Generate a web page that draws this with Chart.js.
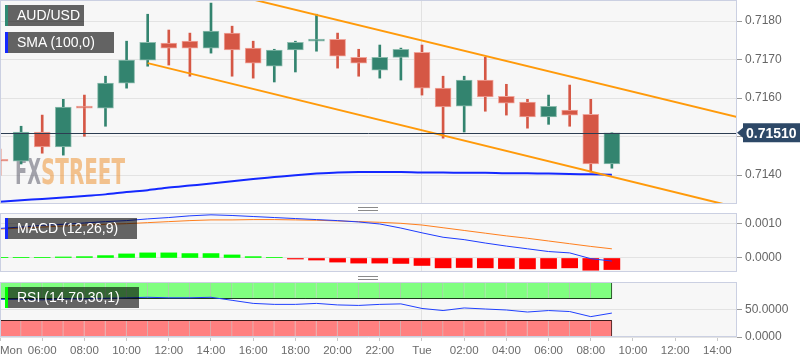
<!DOCTYPE html>
<html>
<head>
<meta charset="utf-8">
<script src="https://cdn.jsdelivr.net/npm/chart.js@4.4.0/dist/chart.umd.min.js"></script>
<style>
html, body { margin: 0; padding: 0; background: #fff; }
#wrap { position: relative; width: 808px; height: 363px; overflow: hidden; font-family: "Liberation Sans", Arial, sans-serif; }
canvas { position: absolute; left: 0; }
.tag { position: absolute; left: 5px; height: 21px; line-height: 21px; background: rgba(0,0,0,0.6); color: #fff; font-size: 14px; padding-left: 9px; box-sizing: border-box; border-left: 3px solid; white-space: nowrap; }
.grip { position: absolute; left: 358px; width: 20px; height: 2px; border-top: 1px solid #8a8a8a; border-bottom: 1px solid #8a8a8a; }
</style>
</head>
<body>
<div id="wrap">
	<canvas id="price-chart" width="808" height="204" style="top:0"></canvas>
	<canvas id="macd-chart" width="808" height="59" style="top:213px"></canvas>
	<canvas id="rsi-chart" width="808" height="81" style="top:282px"></canvas>
	<div class="tag" style="top:5px;width:79px;border-color:#2f8a73">AUD/USD</div>
	<div class="tag" style="top:32px;width:109px;border-color:#1428ff">SMA (100,0)</div>
	<div class="tag" style="top:218px;width:132px;border-color:#1428ff">MACD (12,26,9)</div>
	<div class="tag" style="top:287px;width:134px;border-color:#00ff00">RSI (14,70,30,1)</div>
	<div class="grip" style="top:207px"></div>
	<div class="grip" style="top:276px"></div>
</div>
<script>
// AUD/USD hourly, Mon 04:00 -> Tue 09:00 (hour index 0 = Mon 04:00)
var candleHours = [0, 1, 2, 3, 4, 5, 6, 7, 8, 9, 10, 11, 12, 13, 14, 15, 16, 17, 18, 19, 20, 21, 22, 23, 24, 25, 26, 27, 28, 29];
var opens  = [0.71439, 0.71436, 0.71512, 0.71473, 0.71579, 0.71574, 0.71639, 0.71699, 0.71743, 0.71748,
			  0.71730, 0.71769, 0.71730, 0.71683, 0.71725, 0.71748, 0.71753, 0.71706, 0.71673, 0.71706,
			  0.71719, 0.71626, 0.71579, 0.71647, 0.71605, 0.71590, 0.71551, 0.71569, 0.71558, 0.71429];
var highs  = [0.71468, 0.71527, 0.71556, 0.71597, 0.71608, 0.71657, 0.71748, 0.71818, 0.71777, 0.71769,
			  0.71847, 0.71787, 0.71748, 0.71727, 0.71748, 0.71818, 0.71769, 0.71727, 0.71738, 0.71730,
			  0.71738, 0.71657, 0.71657, 0.71706, 0.71636, 0.71597, 0.71608, 0.71634, 0.71597, 0.71510];
var lows   = [0.71400, 0.71429, 0.71457, 0.71452, 0.71501, 0.71527, 0.71626, 0.71683, 0.71686, 0.71657,
			  0.71717, 0.71657, 0.71652, 0.71642, 0.71668, 0.71722, 0.71678, 0.71657, 0.71652, 0.71647,
			  0.71608, 0.71496, 0.71512, 0.71566, 0.71556, 0.71522, 0.71532, 0.71527, 0.71408, 0.71418];
var closes = [0.71436, 0.71512, 0.71473, 0.71577, 0.71574, 0.71639, 0.71699, 0.71745, 0.71730, 0.71730,
			  0.71774, 0.71725, 0.71691, 0.71725, 0.71745, 0.71753, 0.71709, 0.71691, 0.71706, 0.71727,
			  0.71626, 0.71577, 0.71647, 0.71603, 0.71587, 0.71551, 0.71579, 0.71556, 0.71429, 0.71510];
var sma100 = [0.71331, 0.71335, 0.71338, 0.71342, 0.71346, 0.71350, 0.71356, 0.71361, 0.71368, 0.71373,
			  0.71378, 0.71384, 0.71390, 0.71395, 0.71400, 0.71404, 0.71407, 0.71408, 0.71408, 0.71408,
			  0.71407, 0.71407, 0.71406, 0.71406, 0.71405, 0.71405, 0.71404, 0.71403, 0.71402, 0.71401];
var lastPrice = 0.71510;

// descending channel, [hour index] -> price
var channelTopX = [12, 35];
var channelTopY = [0.71856, 0.71550];
var channelBottomX = [7, 34.5];
var channelBottomY = [0.71691, 0.71322];

var macdLine   = [0.00087, 0.00091, 0.00096, 0.00099, 0.00103, 0.00107, 0.00110, 0.00115, 0.00119, 0.00124,
				  0.00127, 0.00125, 0.00122, 0.00119, 0.00116, 0.00113, 0.00110, 0.00106, 0.00100, 0.00088,
				  0.00074, 0.00061, 0.00054, 0.00044, 0.00035, 0.00027, 0.00019, 0.00015, -0.00002, -0.00009];
var macdSignal = [0.00085, 0.00088, 0.00091, 0.00094, 0.00097, 0.00099, 0.00101, 0.00104, 0.00107, 0.00110,
				  0.00112, 0.00112, 0.00113, 0.00113, 0.00112, 0.00111, 0.00109, 0.00107, 0.00105, 0.00102,
				  0.00097, 0.00089, 0.00081, 0.00073, 0.00065, 0.00058, 0.00050, 0.00042, 0.00034, 0.00027];
var macdHist   = [0.00002, 0.00002, 0.00001, 0.00003, 0.00004, 0.00007, 0.00012, 0.00015, 0.00015, 0.00013,
				  0.00013, 0.00009, 0.00004, 0.00001, -0.00003, -0.00006, -0.00012, -0.00015, -0.00015, -0.00016,
				  -0.00022, -0.00029, -0.00028, -0.00029, -0.00031, -0.00032, -0.00031, -0.00029, -0.00036, -0.00034];

var rsi14 = [68.5, 68.5, 67.6, 69.4, 69.4, 70.4, 71.3, 72.2, 71.3, 71.3,
			 72.2, 66.7, 61.1, 59.3, 59.3, 61.1, 58.3, 57.4, 59.3, 60.2,
			 51.9, 48.1, 52.8, 50.9, 49.1, 45.4, 48.1, 46.3, 37.0, 43.5];
var rsiOverbought = [70, 100];
var rsiOversold = [0, 30];

var timeTicks = [0, 2, 4, 6, 8, 10, 12, 14, 16, 18, 20, 22, 24, 26, 28, 30, 32, 34];
var timeLabels = ['       Mon', '06:00', '08:00', '10:00', '12:00', '14:00', '16:00', '18:00', '20:00',
				  '22:00', 'Tue', '02:00', '04:00', '06:00', '08:00', '10:00', '12:00', '14:00'];
var dayBreak = 20;
var priceTicks = [0.7140, 0.7150, 0.7160, 0.7170, 0.7180];
var macdTicks = [0, 0.0010];
var rsiTicks = [0, 50];

var xMin = 0, xMax = 34.93;
var upColor = '#33846f', downColor = '#d55745';
var upEdge = '#8dbcae', downEdge = '#f0a59b';

function pts(xs, ys) {
	return ys.map(function (v, i) { return { x: xs[i], y: v }; });
}
function isUp(i) { return closes[i] >= opens[i]; }

var panelPlugin = {
	id: 'panel',
	beforeDraw: function (chart) {
		var a = chart.chartArea, ctx = chart.ctx;
		ctx.save();
		ctx.fillStyle = '#f7f7f7';
		ctx.fillRect(a.left, a.top, a.right - a.left, a.bottom - a.top);
		ctx.restore();
	},
	afterDraw: function (chart) {
		var a = chart.chartArea, ctx = chart.ctx;
		ctx.save();
		ctx.strokeStyle = '#cbd0e2';
		ctx.lineWidth = 1;
		ctx.strokeRect(a.left + 0.5, a.top + 0.5, a.right - a.left - 1, a.bottom - a.top - 1);
		ctx.restore();
	}
};

function xAxis(showLabels) {
	return {
		type: 'linear',
		min: xMin,
		max: xMax,
		offset: false,
		display: true,
		border: { display: false },
		grid: {
			offset: false,
			drawTicks: showLabels,
			tickLength: 4,
			tickColor: '#c8c8c8',
			color: function (c) { return c.tick && c.tick.value === dayBreak ? '#e2e2e2' : 'rgba(0,0,0,0)'; }
		},
		ticks: {
			display: showLabels,
			autoSkip: false,
			maxRotation: 0,
			padding: 3,
			color: '#6b6b6b',
			font: { family: '"Liberation Sans", Arial', size: 11.5 },
			callback: function (v, i) { return timeLabels[i]; }
		},
		afterBuildTicks: function (s) { s.ticks = timeTicks.map(function (v) { return { value: v }; }); },
		afterFit: function (s) { s.paddingLeft = 0; s.paddingRight = 0; s.height = showLabels ? 26 : 0; }
	};
}

function yAxis(min, max, ticksList, fmt) {
	return {
		type: 'linear',
		position: 'right',
		min: min,
		max: max,
		beginAtZero: false,
		border: { display: false },
		grid: { color: '#e3e3e3', tickLength: 5, tickColor: '#9a9a9a' },
		ticks: {
			padding: 3,
			color: '#666',
			font: { family: '"Liberation Sans", Arial', size: 12 },
			callback: fmt
		},
		afterBuildTicks: function (s) { s.ticks = ticksList.map(function (v) { return { value: v }; }); },
		afterFit: function (s) { s.width = 71; s.paddingTop = 0; s.paddingBottom = 0; }
	};
}

var fourDp = function (v) { return v.toFixed(4); };

var baseOptions = {
	responsive: false,
	animation: false,
	events: [],
	layout: { padding: 0, autoPadding: false },
	plugins: { legend: { display: false }, tooltip: { enabled: false } }
};

window.addEventListener('load', function () {

	//Price panel
	var priceExtras = {
		id: 'priceExtras',
		beforeDatasetsDraw: function (chart) {
			var ctx = chart.ctx;
			ctx.save();
			ctx.font = 'bold 36px "DejaVu Sans", sans-serif';
			ctx.textBaseline = 'alphabetic';
			var w1 = ctx.measureText('FX').width, w2 = ctx.measureText('STREET').width;
			ctx.fillStyle = 'rgba(105,105,118,0.6)';
			ctx.setTransform(26 / w1, 0, 0, 1, 15, 184);
			ctx.fillText('FX', 0, 0);
			ctx.fillStyle = 'rgba(238,150,55,0.55)';
			ctx.setTransform(84 / w2, 0, 0, 1, 41, 184);
			ctx.fillText('STREET', 0, 0);
			ctx.restore();
		},
		afterDatasetsDraw: function (chart) {
			var a = chart.chartArea, ctx = chart.ctx;
			var y = Math.round(chart.scales.y.getPixelForValue(lastPrice)) + 0.5;
			ctx.save();
			ctx.strokeStyle = '#2c3d52';
			ctx.lineWidth = 1;
			ctx.beginPath();
			ctx.moveTo(a.left, y);
			ctx.lineTo(a.right, y);
			ctx.stroke();
			ctx.restore();
		},
		afterDraw: function (chart) {
			var a = chart.chartArea, ctx = chart.ctx;
			var y = chart.scales.y.getPixelForValue(lastPrice);
			ctx.save();
			ctx.fillStyle = '#2d4867';
			ctx.beginPath();
			ctx.moveTo(a.right, y);
			ctx.lineTo(a.right + 6, y - 5);
			ctx.lineTo(a.right + 6, y - 9.5);
			ctx.lineTo(a.right + 63, y - 9.5);
			ctx.lineTo(a.right + 63, y + 9.5);
			ctx.lineTo(a.right + 6, y + 9.5);
			ctx.lineTo(a.right + 6, y + 5);
			ctx.closePath();
			ctx.fill();
			ctx.fillStyle = '#fff';
			ctx.font = 'bold 14px "Liberation Sans", Arial';
			ctx.textBaseline = 'middle';
			ctx.fillText(lastPrice.toFixed(5), a.right + 9, y + 1);
			ctx.restore();
		}
	};

	new Chart(document.getElementById('price-chart'), {
		type: 'bar',
		data: {
			datasets: [
				{
					type: 'line',
					data: pts(candleHours, sma100),
					borderColor: '#1428ff',
					borderWidth: 2,
					pointRadius: 0,
					cubicInterpolationMode: 'monotone',
					order: 1
				},
				{
					type: 'line',
					data: pts(channelTopX, channelTopY),
					borderColor: '#ff9a0a',
					borderWidth: 2,
					pointRadius: 0,
					order: 0
				},
				{
					type: 'line',
					data: pts(channelBottomX, channelBottomY),
					borderColor: '#ff9a0a',
					borderWidth: 2,
					pointRadius: 0,
					order: 0
				},
				{
					// wicks
					data: candleHours.map(function (h, i) { return { x: h, y: [lows[i], highs[i]] }; }),
					backgroundColor: function (c) { return isUp(c.dataIndex) ? upColor : downColor; },
					barThickness: 2,
					grouped: false,
					order: 3
				},
				{
					// bodies
					data: candleHours.map(function (h, i) { return { x: h, y: [opens[i], closes[i]] }; }),
					backgroundColor: function (c) { return isUp(c.dataIndex) ? upColor : downColor; },
					borderColor: function (c) { return isUp(c.dataIndex) ? upEdge : downEdge; },
					borderWidth: 1,
					borderSkipped: false,
					minBarLength: 2,
					barThickness: 16,
					grouped: false,
					order: 2
				}
			]
		},
		options: Object.assign({}, baseOptions, {
			scales: {
				x: xAxis(false),
				y: yAxis(0.71325, 0.71855, priceTicks, fourDp)
			}
		}),
		plugins: [panelPlugin, priceExtras]
	});

	//MACD panel
	new Chart(document.getElementById('macd-chart'), {
		type: 'bar',
		data: {
			datasets: [
				{
					data: pts(candleHours, macdHist),
					backgroundColor: function (c) { return macdHist[c.dataIndex] >= 0 ? '#00ff00' : '#ff0000'; },
					barThickness: 16,
					grouped: false,
					order: 3
				},
				{
					type: 'line',
					data: pts(candleHours, macdSignal),
					borderColor: '#ff7f1e',
					borderWidth: 1,
					pointRadius: 0,
					order: 2
				},
				{
					type: 'line',
					data: pts(candleHours, macdLine),
					borderColor: '#1e3cff',
					borderWidth: 1,
					pointRadius: 0,
					order: 1
				}
			]
		},
		options: Object.assign({}, baseOptions, {
			scales: {
				x: xAxis(false),
				y: yAxis(-0.000412, 0.0013235, macdTicks, fourDp)
			}
		}),
		plugins: [panelPlugin]
	});

	//RSI panel
	var bandHours = candleHours.slice(0, candleHours.length - 1);
	var lastBand = bandHours.length - 1;
	var bandEnds = [candleHours[0], candleHours[candleHours.length - 1]];
	new Chart(document.getElementById('rsi-chart'), {
		type: 'bar',
		data: {
			datasets: [
				{
					data: bandHours.map(function (h) { return { x: h + 0.5, y: rsiOverbought }; }),
					backgroundColor: '#80ff80',
					borderColor: function (c) { return c.dataIndex === lastBand ? '#1d3d1d' : 'rgba(0,70,0,0.28)'; },
					borderWidth: { top: 0, right: 1, bottom: 0, left: 0 },
					borderSkipped: false,
					barPercentage: 1,
					categoryPercentage: 1,
					grouped: false,
					order: 3
				},
				{
					data: bandHours.map(function (h) { return { x: h + 0.5, y: rsiOversold }; }),
					backgroundColor: '#ff8080',
					borderColor: function (c) { return c.dataIndex === lastBand ? '#3d1d1d' : 'rgba(90,0,0,0.25)'; },
					borderWidth: { top: 0, right: 1, bottom: 0, left: 0 },
					borderSkipped: false,
					barPercentage: 1,
					categoryPercentage: 1,
					grouped: false,
					order: 3
				},
				{
					// band edges
					type: 'line',
					data: pts(bandEnds, [rsiOverbought[0], rsiOverbought[0]]),
					borderColor: '#1d3d1d',
					borderWidth: 1,
					pointRadius: 0,
					order: 2
				},
				{
					type: 'line',
					data: pts(bandEnds, [rsiOversold[1], rsiOversold[1]]),
					borderColor: '#3d1d1d',
					borderWidth: 1,
					pointRadius: 0,
					order: 2
				},
				{
					type: 'line',
					data: pts(candleHours, rsi14),
					borderColor: '#2040ff',
					borderWidth: 1,
					pointRadius: 0,
					order: 1
				}
			]
		},
		options: Object.assign({}, baseOptions, {
			scales: {
				x: xAxis(true),
				y: yAxis(0, 100, rsiTicks, fourDp)
			}
		}),
		plugins: [panelPlugin]
	});
});
</script>
</body>
</html>
